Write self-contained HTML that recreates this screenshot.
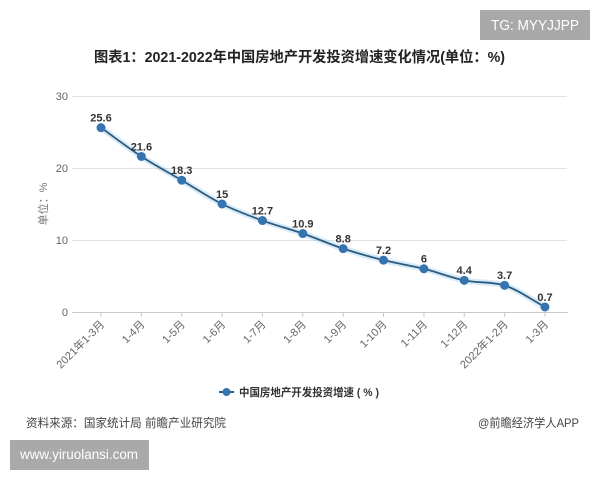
<!DOCTYPE html>
<html><head><meta charset="utf-8"><style>
html,body{margin:0;padding:0;background:#fff;}
svg{display:block;}
text{font-family:"Liberation Sans","Noto Sans CJK SC",sans-serif;}
</style></head><body>
<svg width="600" height="480" viewBox="0 0 600 480" xmlns="http://www.w3.org/2000/svg">
<rect width="600" height="480" fill="#fff"/>
<!-- TG box -->
<rect x="480" y="10" width="110" height="30" fill="#a9a9a9"/>
<text x="535" y="30" font-size="14.5" fill="#fff" text-anchor="middle" textLength="88" lengthAdjust="spacingAndGlyphs">TG: MYYJJPP</text>
<!-- title -->
<text x="94" y="62" font-size="14.5" font-weight="bold" fill="#222" textLength="411" lengthAdjust="spacingAndGlyphs">图表1：2021-2022年中国房地产开发投资增速变化情况(单位：%)</text>
<!-- gridlines -->
<g stroke="#e2e2e2" stroke-width="1">
<line x1="72" y1="96.5" x2="567" y2="96.5"/>
<line x1="72" y1="168.5" x2="567" y2="168.5"/>
<line x1="72" y1="240.5" x2="567" y2="240.5"/>
</g>
<line x1="72" y1="312.5" x2="568" y2="312.5" stroke="#c8c8c8" stroke-width="1"/>
<!-- y labels -->
<g font-size="11" fill="#666" text-anchor="end">
<text x="68" y="100">30</text>
<text x="68" y="172">20</text>
<text x="68" y="244">10</text>
<text x="68" y="316">0</text>
</g>
<text transform="translate(47,204) rotate(-90)" font-size="11" fill="#777" text-anchor="middle">单位：%</text>
<!-- ticks -->
<g stroke="#c8c8c8" stroke-width="1">
<line x1="101" y1="312" x2="101" y2="317"/>
<line x1="141.4" y1="312" x2="141.4" y2="317"/>
<line x1="181.7" y1="312" x2="181.7" y2="317"/>
<line x1="222.1" y1="312" x2="222.1" y2="317"/>
<line x1="262.4" y1="312" x2="262.4" y2="317"/>
<line x1="302.8" y1="312" x2="302.8" y2="317"/>
<line x1="343.2" y1="312" x2="343.2" y2="317"/>
<line x1="383.5" y1="312" x2="383.5" y2="317"/>
<line x1="423.9" y1="312" x2="423.9" y2="317"/>
<line x1="464.2" y1="312" x2="464.2" y2="317"/>
<line x1="504.6" y1="312" x2="504.6" y2="317"/>
<line x1="545" y1="312" x2="545" y2="317"/>
</g>
<!-- x labels -->
<g font-size="11" fill="#666" text-anchor="end">
<text transform="translate(105,325) rotate(-45)">2021年1-3月</text>
<text transform="translate(145.4,325) rotate(-45)">1-4月</text>
<text transform="translate(185.7,325) rotate(-45)">1-5月</text>
<text transform="translate(226.1,325) rotate(-45)">1-6月</text>
<text transform="translate(266.4,325) rotate(-45)">1-7月</text>
<text transform="translate(306.8,325) rotate(-45)">1-8月</text>
<text transform="translate(347.2,325) rotate(-45)">1-9月</text>
<text transform="translate(387.5,325) rotate(-45)">1-10月</text>
<text transform="translate(427.9,325) rotate(-45)">1-11月</text>
<text transform="translate(468.2,325) rotate(-45)">1-12月</text>
<text transform="translate(508.6,325) rotate(-45)">2022年1-2月</text>
<text transform="translate(549,325) rotate(-45)">1-3月</text>
</g>
<!-- series -->
<path d="M101 127.68 C114.45 137.28,127.91 147.72,141.36 156.48 C154.81 165.24,168.27 172.32,181.72 180.24 C195.17 188.16,208.63 197.28,222.08 204 C235.53 210.72,248.99 215.64,262.44 220.56 C275.89 225.48,289.35 228.84,302.8 233.52 C316.25 238.2,329.71 244.2,343.16 248.64 C356.61 253.08,370.07 256.8,383.52 260.16 C396.97 263.52,410.43 265.44,423.88 268.8 C437.33 272.16,450.79 277.56,464.24 280.32 C477.69 283.08,491.15 281.6,504.6 285.36 C518.05 289.8,531.51 299.76,544.96 306.96" fill="none" stroke="rgba(140,195,235,0.35)" stroke-width="6" stroke-linecap="round"/>
<path d="M101 127.68 C114.45 137.28,127.91 147.72,141.36 156.48 C154.81 165.24,168.27 172.32,181.72 180.24 C195.17 188.16,208.63 197.28,222.08 204 C235.53 210.72,248.99 215.64,262.44 220.56 C275.89 225.48,289.35 228.84,302.8 233.52 C316.25 238.2,329.71 244.2,343.16 248.64 C356.61 253.08,370.07 256.8,383.52 260.16 C396.97 263.52,410.43 265.44,423.88 268.8 C437.33 272.16,450.79 277.56,464.24 280.32 C477.69 283.08,491.15 281.6,504.6 285.36 C518.05 289.8,531.51 299.76,544.96 306.96" fill="none" stroke="#2d5b7e" stroke-width="1.8"/>
<g fill="#3674b0">
<circle cx="101" cy="127.68" r="4.5"/>
<circle cx="141.36" cy="156.48" r="4.5"/>
<circle cx="181.72" cy="180.24" r="4.5"/>
<circle cx="222.08" cy="204" r="4.5"/>
<circle cx="262.44" cy="220.56" r="4.5"/>
<circle cx="302.8" cy="233.52" r="4.5"/>
<circle cx="343.16" cy="248.64" r="4.5"/>
<circle cx="383.52" cy="260.16" r="4.5"/>
<circle cx="423.88" cy="268.8" r="4.5"/>
<circle cx="464.24" cy="280.32" r="4.5"/>
<circle cx="504.6" cy="285.36" r="4.5"/>
<circle cx="544.96" cy="306.96" r="4.5"/>
</g>
<g font-size="11" font-weight="bold" fill="#333" text-anchor="middle">
<text x="101" y="121.5">25.6</text>
<text x="141.4" y="150.3">21.6</text>
<text x="181.7" y="174">18.3</text>
<text x="222.1" y="197.8">15</text>
<text x="262.4" y="214.4">12.7</text>
<text x="302.8" y="227.3">10.9</text>
<text x="343.2" y="242.4">8.8</text>
<text x="383.5" y="254">7.2</text>
<text x="423.9" y="262.6">6</text>
<text x="464.2" y="274.1">4.4</text>
<text x="504.6" y="279.2">3.7</text>
<text x="545" y="300.8">0.7</text>
</g>
<!-- legend -->
<line x1="219" y1="392" x2="234" y2="392" stroke="#2d5b7e" stroke-width="2"/>
<circle cx="226.5" cy="392" r="4" fill="#3674b0"/>
<text x="239" y="396" font-size="11" font-weight="bold" fill="#333" textLength="140" lengthAdjust="spacingAndGlyphs">中国房地产开发投资增速 ( % )</text>
<!-- source -->
<text x="26" y="427" font-size="12" fill="#444" textLength="200" lengthAdjust="spacingAndGlyphs">资料来源：国家统计局 前瞻产业研究院</text>
<text x="579" y="427" font-size="12" fill="#444" text-anchor="end" textLength="101" lengthAdjust="spacingAndGlyphs">@前瞻经济学人APP</text>
<!-- bottom box -->
<rect x="10" y="440" width="139" height="30" fill="#a9a9a9"/>
<text x="20" y="459" font-size="13.5" fill="#fff" textLength="118" lengthAdjust="spacingAndGlyphs">www.yiruolansi.com</text>
</svg>
</body></html>
